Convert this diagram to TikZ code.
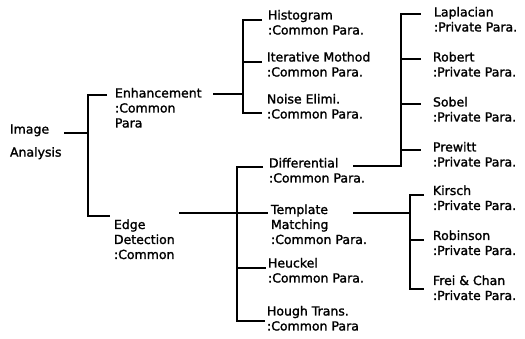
\documentclass[tikz,border=0pt]{standalone}
\usepackage{fontspec}
\newfontfamily\lblfont{DejaVu Sans}[FakeBold=1.5]
\begin{document}
\begin{tikzpicture}[x=1pt,y=-1pt,
  lbl/.style={anchor=north west, inner sep=0pt, outer sep=0pt, align=left, font=\lblfont\fontsize{12.5}{15}\selectfont},
  conn/.style={line width=1.3pt, line join=miter}]
\useasboundingbox (0,0) rectangle (525,339);
% ---------- texts ----------
\node[lbl, font=\lblfont\fontsize{12.5}{23}\selectfont] (ia) at (10,124.5) {Image\\Analysis};
\node[lbl] (enh) at (115,88) {Enhancement\\:Common\\Para};
\node[lbl] (edge) at (114,219.5) {Edge\\Detection\\:Common};
\node[lbl] (hist) at (268,10) {Histogram\\:Common Para.};
\node[lbl] (iter) at (267,52) {Iterative Mothod\\:Common Para.};
\node[lbl] (noise) at (267,94) {Noise Elimi.\\:Common Para.};
\node[lbl] (diff) at (269,158) {Differential\\:Common Para.};
\node[lbl] (tmpl) at (271,204.5) {Template\\Matching\\:Common Para.};
\node[lbl] (heu) at (268,258) {Heuckel\\:Common Para.};
\node[lbl] (hough) at (267,306) {Hough Trans.\\:Common Para};
\node[lbl] (lap) at (434,7) {Laplacian\\:Private Para.};
\node[lbl] (rob) at (433,52) {Robert\\:Private Para.};
\node[lbl] (sob) at (433,97) {Sobel\\:Private Para.};
\node[lbl] (pre) at (433,142) {Prewitt\\:Private Para.};
\node[lbl] (kir) at (433,185.5) {Kirsch\\:Private Para.};
\node[lbl] (robi) at (433,230.5) {Robinson\\:Private Para.};
\node[lbl] (frei) at (433,275.5) {Frei \& Chan\\:Private Para.};
% ---------- connection points ----------
\coordinate (ia-o) at (64,133);
\coordinate (b0) at (88,133);
\coordinate (b0t) at (88,95);
\coordinate (b0b) at (88,216);
\coordinate (enh-i) at (107,95);
\coordinate (edge-i) at (110,216);
\coordinate (enh-o) at (213,94);
\coordinate (b1) at (243,94);
\coordinate (b1t) at (243,20);
\coordinate (b1m) at (243,62);
\coordinate (b1b) at (243,113);
\coordinate (hist-i) at (262,20);
\coordinate (iter-i) at (262,62);
\coordinate (noise-i) at (262,113);
\coordinate (edge-o) at (179,213);
\coordinate (b2) at (237,213);
\coordinate (b2t) at (237,167);
\coordinate (b2h) at (237,268);
\coordinate (b2b) at (237,321);
\coordinate (diff-i) at (263,167);
\coordinate (tmpl-i) at (268,213);
\coordinate (heu-i) at (266,268);
\coordinate (hough-i) at (265,321);
\coordinate (diff-o) at (353,166);
\coordinate (b3) at (401,166);
\coordinate (b3t) at (401,14);
\coordinate (b3r) at (401,59);
\coordinate (b3s) at (401,104);
\coordinate (b3p) at (401,150);
\coordinate (lap-i) at (421,14);
\coordinate (rob-i) at (421,59);
\coordinate (sob-i) at (421,104);
\coordinate (pre-i) at (421,150);
\coordinate (tmpl-o) at (353,213);
\coordinate (b4) at (410,213);
\coordinate (b4t) at (410,195);
\coordinate (b4m) at (410,240);
\coordinate (b4b) at (410,289);
\coordinate (kir-i) at (424,195);
\coordinate (robi-i) at (424,240);
\coordinate (frei-i) at (424,289);
% ---------- connectors ----------
\draw[conn] (ia-o) -- (b0);
\draw[conn] (enh-i) -- (b0t) -- (b0b) -- (edge-i);
\draw[conn] (enh-o) -- (b1);
\draw[conn] (hist-i) -- (b1t) -- (b1b) -- (noise-i);
\draw[conn] (b1m) -- (iter-i);
\draw[conn] (edge-o) -- (b2) -- (tmpl-i);
\draw[conn] (diff-i) -- (b2t) -- (b2b) -- (hough-i);
\draw[conn] (b2h) -- (heu-i);
\draw[conn] (diff-o) -- (b3) -- (b3t) -- (lap-i);
\draw[conn] (b3r) -- (rob-i);
\draw[conn] (b3s) -- (sob-i);
\draw[conn] (b3p) -- (pre-i);
\draw[conn] (tmpl-o) -- (b4);
\draw[conn] (kir-i) -- (b4t) -- (b4b) -- (frei-i);
\draw[conn] (b4m) -- (robi-i);
\end{tikzpicture}
\end{document}
